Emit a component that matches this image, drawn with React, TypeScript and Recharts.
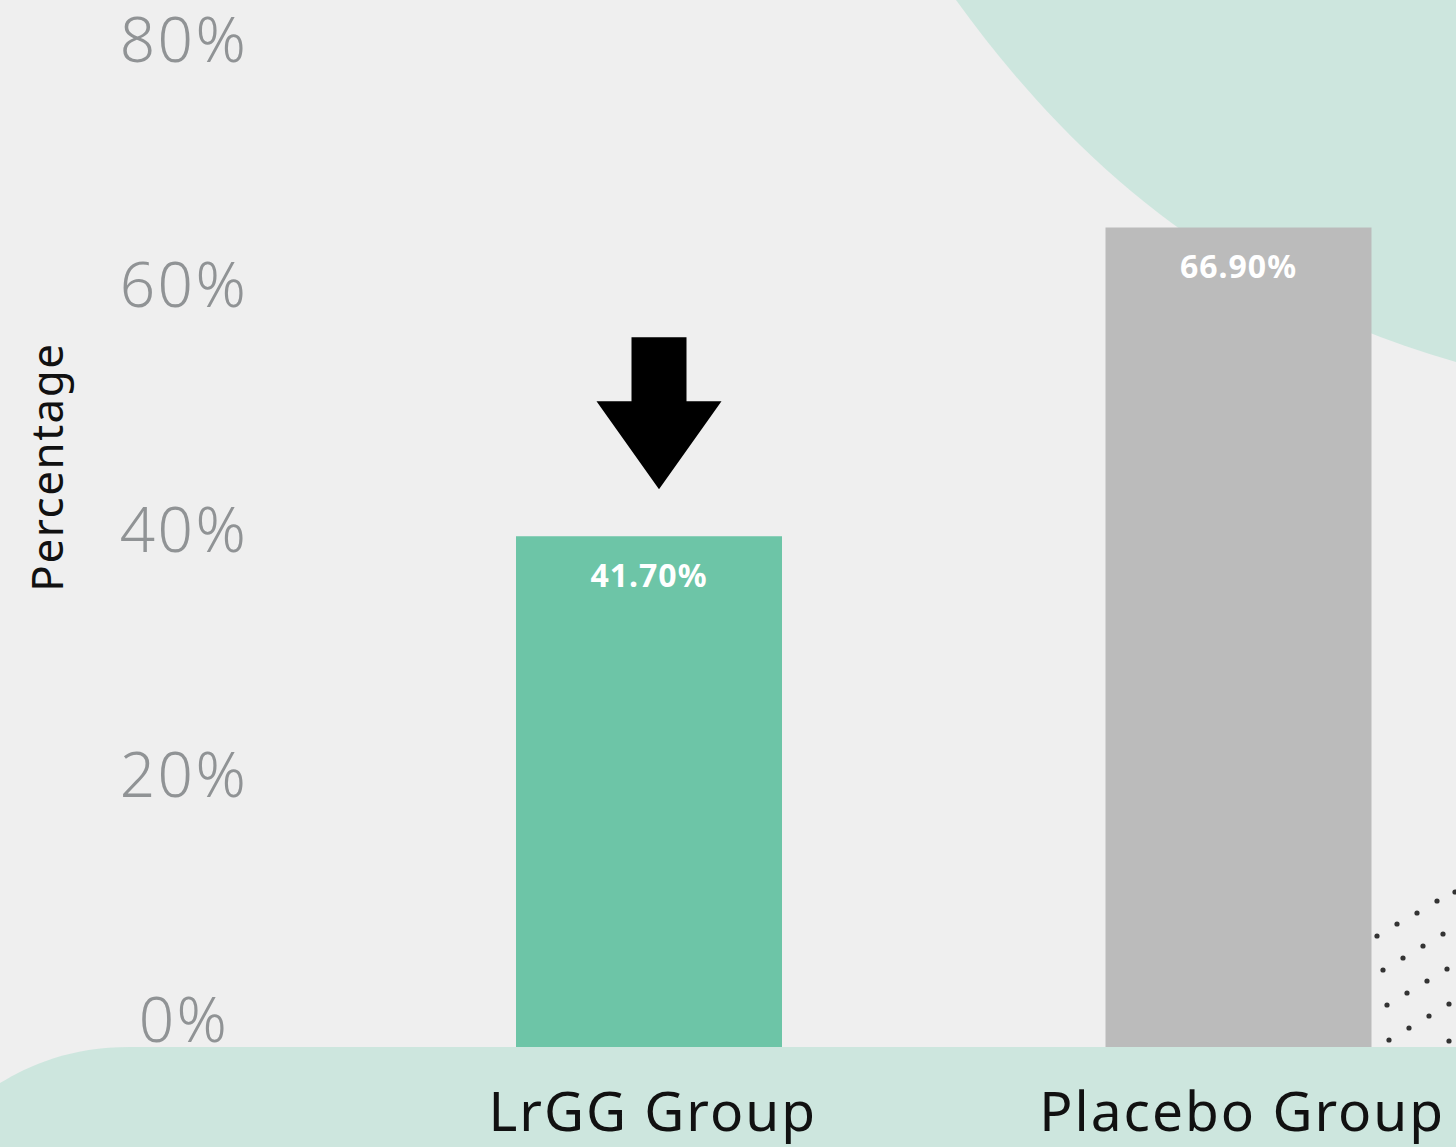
import React from 'react';
import { BarChart, Bar, XAxis, YAxis, Cell, LabelList } from 'recharts';

const categories = ['LrGG Group', 'Placebo Group'];
const values = [41.7, 66.9];
const barColors = ['#6dc5a7', '#bbbbbb'];
const yTicks = [0, 20, 40, 60, 80];

const data = categories.map((name, i) => ({ name, value: values[i] }));

const FONT = "'Noto Sans', sans-serif";

// decorative dots in the lower right corner
const dots = [
  [1455, 892], [1437, 901], [1417, 913], [1397, 924], [1377, 936],
  [1443, 934], [1423, 946], [1403, 958], [1383, 970],
  [1447, 969], [1427, 981], [1407, 993], [1387, 1005],
  [1449, 1004], [1429, 1016], [1409, 1028], [1389, 1040],
  [1449, 1041],
];

const YTick = (props: any) => {
  const { x, y, payload } = props;
  return (
    <text x={x - 162} y={y - 27} dy="0.36em" textAnchor="middle" fill="#909395" fontSize={62} fontWeight={300} letterSpacing={2.5} fontFamily={FONT}>
      {`${payload.value}%`}
    </text>
  );
};

const XTick = (props: any) => {
  const { x, y, payload } = props;
  return (
    <text x={x + 4} y={y + 76} textAnchor="middle" fill="#111" fontSize={55} letterSpacing={2} fontFamily={FONT}>
      {payload.value}
    </text>
  );
};

const YLabel = (props: any) => {
  const { viewBox } = props;
  const cx = viewBox.x + 47;
  const cy = viewBox.y + viewBox.height / 2 - 90;
  return (
    <text x={cx} y={cy} transform={`rotate(-90 ${cx} ${cy})`} textAnchor="middle" dy="0.36em" fill="#111" fontSize={44} letterSpacing={1.5} fontFamily={FONT}>
      Percentage
    </text>
  );
};

// down arrow drawn over the first bar
const Arrow = (props: any) => {
  const { x, y, width, index } = props;
  if (index !== 0) return null;
  const cx = x + width / 2 + 10;
  const tip = y - 47;
  const base = y - 135;
  const top = y - 199;
  return (
    <path
      d={`M${cx - 27.5},${top} L${cx + 27.5},${top} L${cx + 27.5},${base} L${cx + 62.5},${base} L${cx},${tip} L${cx - 62.5},${base} L${cx - 27.5},${base} Z`}
      fill="#000"
    />
  );
};

export default function App() {
  return (
    <div style={{ position: 'absolute', top: 0, left: 0, width: 1456, height: 1147, overflow: 'hidden', background: '#efefef' }}>
      <svg width={1456} height={1147} style={{ position: 'absolute', top: 0, left: 0 }}>
        <path d="M956,0 C1050,130 1200,290 1456,362 L1456,0 Z" fill="#cde6de" />
        <path d="M0,1083 C30,1065 70,1047 130,1047 L1456,1047 L1456,1147 L0,1147 Z" fill="#cde6de" />
        {dots.map(([dx, dy], i) => (
          <circle key={i} cx={dx} cy={dy} r={2.6} fill="#333" />
        ))}
      </svg>
      <div style={{ position: 'absolute', top: 0, left: 0 }}>
        <BarChart width={1533} height={1147} data={data} margin={{ top: 67, right: 0, bottom: 0, left: 0 }}>
          <XAxis dataKey="name" axisLine={false} tickLine={false} height={100} tick={<XTick />} interval={0} />
          <YAxis
            domain={[0, 80]}
            ticks={yTicks}
            width={354}
            axisLine={false}
            tickLine={false}
            tick={<YTick />}
            label={<YLabel />}
          />
          <Bar dataKey="value" barSize={266} isAnimationActive={false}>
            {data.map((d, i) => (
              <Cell key={d.name} fill={barColors[i]} />
            ))}
            <LabelList
              dataKey="value"
              position="insideTop"
              offset={28}
              fill="#fff"
              fontSize={32}
              fontWeight={700}
              letterSpacing={1}
              fontFamily={FONT}
              formatter={(v: any) => `${Number(v).toFixed(2)}%`}
            />
            <LabelList dataKey="value" content={<Arrow />} />
          </Bar>
        </BarChart>
      </div>
    </div>
  );
}
